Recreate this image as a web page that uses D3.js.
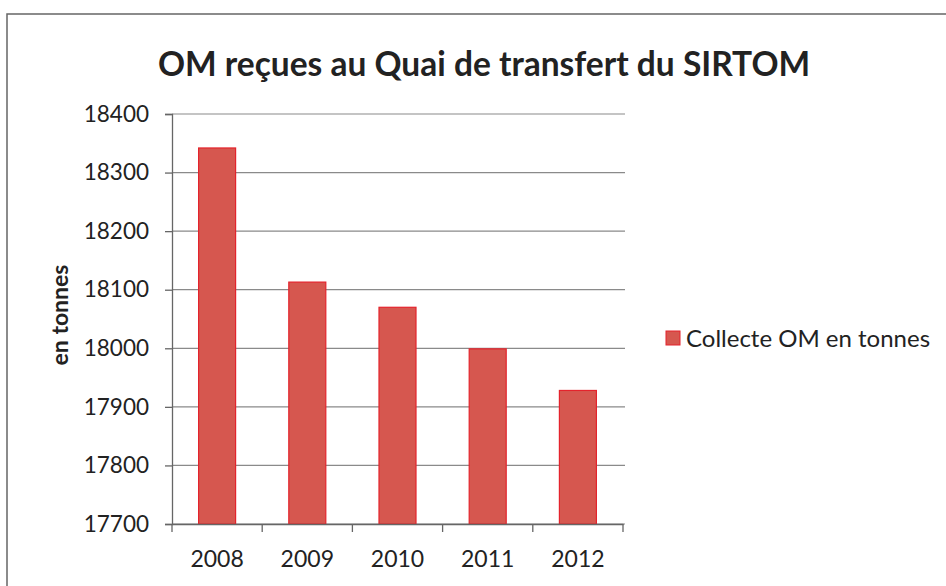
<!DOCTYPE html>
<html>
<head>
<meta charset="utf-8">
<script src="https://cdn.jsdelivr.net/npm/d3@7"></script>
<style>
  body { margin: 0; background: #fff; }
  svg { display: block; font-family: Lato, "Open Sans", sans-serif; }
</style>
</head>
<body>
<svg width="946" height="586"></svg>
<script>
// data
var years = ["2008", "2009", "2010", "2011", "2012"];
var tonnes = [18342, 18113, 18070, 17999, 17928];
var yTicks = [17700, 17800, 17900, 18000, 18100, 18200, 18300, 18400];
var seriesName = "Collecte OM en tonnes";

var svg = d3.select("svg");

// outer frame of the scanned chart
svg.append("rect")
  .attr("x", 7).attr("y", 14)
  .attr("width", 960).attr("height", 600)
  .attr("fill", "none")
  .attr("stroke", "#666")
  .attr("stroke-width", 1.5);

var plotL = 172, plotR = 623, plotT = 114, plotB = 524;

var x = d3.scaleBand()
  .domain(years)
  .range([plotL, plotR]);

var y = d3.scaleLinear()
  .domain([17700, 18400])
  .range([plotB, plotT]);

// gridlines
svg.append("g")
  .selectAll("line")
  .data(yTicks)
  .enter()
  .append("line")
  .attr("x1", plotL).attr("x2", plotR + 2)
  .attr("y1", function(d) { return y(d); })
  .attr("y2", function(d) { return y(d); })
  .attr("stroke", "#8a8a8a")
  .attr("stroke-width", 1.2);

// bars
var bw = 37;
svg.append("g")
  .selectAll("rect")
  .data(tonnes)
  .enter()
  .append("rect")
  .attr("x", function(d, i) { return x(years[i]) + x.bandwidth() / 2 - bw / 2; })
  .attr("y", function(d) { return y(d); })
  .attr("width", bw)
  .attr("height", function(d) { return plotB - y(d); })
  .attr("fill", "#d6574f")
  .attr("stroke", "#e4232c")
  .attr("stroke-width", 1.2);

// y axis
var yAxis = d3.axisLeft(y)
  .tickValues(yTicks)
  .tickSize(7)
  .tickPadding(16)
  .tickFormat(d3.format("d"));

var gy = svg.append("g")
  .attr("transform", "translate(" + plotL + ",0)")
  .call(yAxis);
gy.select(".domain").attr("stroke", "#666").attr("stroke-width", 1.3);
gy.selectAll(".tick line").attr("stroke", "#666").attr("stroke-width", 1.3);
gy.selectAll("text")
  .attr("font-size", 22.5)
  .attr("fill", "#222")
  .attr("font-family", "Lato, sans-serif");

// x axis with ticks between categories
var xAxis = d3.axisBottom(x).tickSize(0).tickPadding(27);
var gx = svg.append("g")
  .attr("transform", "translate(0," + plotB + ")")
  .call(xAxis);
gx.select(".domain").attr("stroke", "#666").attr("stroke-width", 1.3);
gx.selectAll("text")
  .attr("font-size", 23)
  .attr("fill", "#222")
  .attr("font-family", "Lato, sans-serif");

gx.selectAll("line.sep")
  .data(years.concat(["end"]))
  .enter()
  .append("line")
  .attr("class", "sep")
  .attr("x1", function(d, i) { return plotL + i * x.step(); })
  .attr("x2", function(d, i) { return plotL + i * x.step(); })
  .attr("y1", 0).attr("y2", 8)
  .attr("stroke", "#666")
  .attr("stroke-width", 1.3);

// title
svg.append("text")
  .attr("x", 484).attr("y", 76)
  .attr("text-anchor", "middle")
  .attr("font-size", 33.5)
  .attr("font-weight", "bold")
  .attr("fill", "#222")
  .text("OM reçues au Quai de transfert du SIRTOM");

// y axis title
svg.append("text")
  .attr("transform", "translate(68,315) rotate(-90)")
  .attr("text-anchor", "middle")
  .attr("font-size", 23)
  .attr("font-weight", "bold")
  .attr("fill", "#222")
  .text("en tonnes");

// legend
var lg = svg.append("g").attr("transform", "translate(666,331)");
lg.append("rect")
  .attr("width", 14).attr("height", 14)
  .attr("fill", "#d6574f")
  .attr("stroke", "#e4232c");
lg.append("text")
  .attr("x", 20).attr("y", 16)
  .attr("font-size", 24)
  .attr("fill", "#222")
  .text(seriesName);
</script>
</body>
</html>
